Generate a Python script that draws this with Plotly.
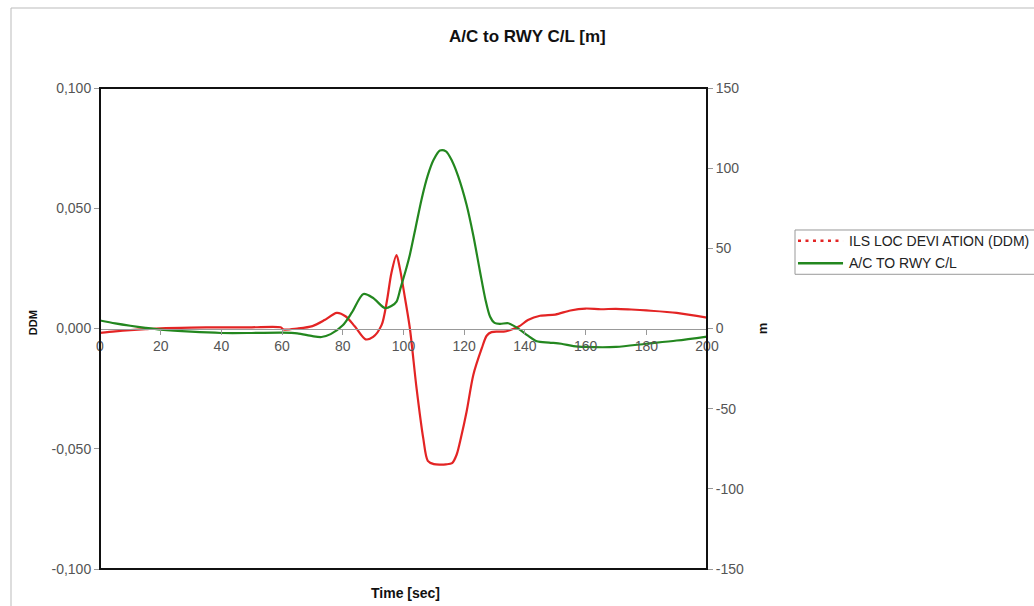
import plotly.graph_objects as go

# ILS localizer deviation (DDM) over time
t_ddm = [0, 5, 10, 15, 20, 30, 40, 50, 59.5, 60.5, 65, 70, 74, 78, 81, 84, 87.5, 90, 92.8,
         94.5, 96, 97.7, 98.8, 100.5, 102.1, 104.3, 106.5, 108, 110, 112, 114, 116, 117.5,
         119, 120.8, 123, 125.8, 127.4, 129, 131, 133, 135, 138, 141, 145, 150, 155, 160,
         165, 170, 175, 180, 190, 200]
ddm = [-0.0018, -0.0012, -0.0007, -0.0003, 0.0001, 0.0004, 0.0005, 0.0005, 0.0005, -0.0004,
       0.0000, 0.0010, 0.0035, 0.0065, 0.0050, 0.0008, -0.0045, -0.0035, 0.0015,
       0.0112, 0.0230, 0.0305, 0.0250, 0.0126, 0.0001, -0.0248, -0.0456, -0.0550, -0.0564,
       -0.0566, -0.0565, -0.0560, -0.0525, -0.0450, -0.0345, -0.0193, -0.0082, -0.0030,
       -0.0015, -0.0013, -0.0013, -0.0007, 0.0008, 0.0035, 0.0053, 0.0058, 0.0075, 0.0083,
       0.0080, 0.0082, 0.0079, 0.0075, 0.0065, 0.0045]

# Aircraft lateral offset to runway centre line (m)
t_m = [0, 5, 10, 15, 20, 30, 40, 50, 60, 65, 70, 73, 76, 80, 83, 86.8, 90, 93.9, 96,
       97.7, 99, 101, 102.1, 104, 106, 108, 110, 112, 114, 116, 118, 120.8, 123, 125.2, 127,
       128.5, 130, 131.8, 134.5, 136.5, 138.4, 141, 143.9, 148, 152, 156, 160, 170, 180,
       190, 200]
m_off = [5, 3.2, 1.7, 0.4, -0.7, -2.0, -2.8, -2.8, -2.6, -3.0, -4.8, -5.3, -3.5, 2.0,
         10.0, 21.5, 19.0, 12.7, 14.0, 16.8, 25.0, 38.0, 46.0, 63.0, 81.0, 95.5, 105.5,
         111.0, 110.5, 104.5, 95.0, 77.0, 58.0, 35.6, 18.0, 7.5, 3.5, 2.9, 3.3, 1.5, -0.8,
         -4.5, -8.0, -8.8, -9.5, -11.0, -11.5, -11.5, -9.5, -7.5, -5.0]

x_ticks = list(range(0, 201, 20))
ddm_ticks = [-0.1, -0.05, 0, 0.05, 0.1]
ddm_tick_text = ["-0,100", "-0,050", "0,000", "0,050", "0,100"]
m_ticks = [-150, -100, -50, 0, 50, 100, 150]
m_tick_text = ["-150", "-100", "-50", "0", "50", "100", "150"]

legend_names = ["ILS LOC DEVI ATION (DDM)", "A/C TO RWY C/L"]

RED = "#e32424"
GREEN = "#23871f"
FONT = "Liberation Sans, Arial, sans-serif"
TICK_FONT = dict(family=FONT, size=14, color="#555555")
LABEL_FONT = dict(family=FONT, size=14, color="#111111")

fig = go.Figure()

fig.add_trace(go.Scatter(
    x=t_ddm, y=ddm, mode="lines", line=dict(color=RED, width=2.2, shape="spline", smoothing=0.8),
    name=legend_names[0], showlegend=False, yaxis="y"))
fig.add_trace(go.Scatter(
    x=t_m, y=m_off, mode="lines", line=dict(color=GREEN, width=2.2, shape="spline", smoothing=0.8),
    name=legend_names[1], showlegend=False, yaxis="y2"))

# manual legend box (paper coordinates)
lg_x0, lg_x1, lg_y0, lg_y1 = 1.145, 1.6, 0.6127, 0.7048
lg_line_x0, lg_line_x1, lg_text_x = 1.1499, 1.2241, 1.2306
lg_rows = [0.6825, 0.6355]

fig.update_layout(
    width=1034, height=606, autosize=False,
    margin=dict(l=100, r=327, t=88, b=37),
    paper_bgcolor="white", plot_bgcolor="white",
    showlegend=False,
    font=dict(family=FONT, size=14, color="#555555"),
    xaxis=dict(range=[0, 200], tickvals=x_ticks, anchor="free", position=0.5,
               showline=True, linecolor="#999999", linewidth=1,
               ticks="outside", ticklen=5, tickcolor="#999999",
               showgrid=False, zeroline=False, tickfont=TICK_FONT),
    yaxis=dict(range=[-0.1, 0.1], tickvals=ddm_ticks, ticktext=ddm_tick_text,
               ticks="outside", ticklen=5, tickcolor="#999999",
               showgrid=False, zeroline=False, showline=False, tickfont=TICK_FONT),
    yaxis2=dict(range=[-150, 150], tickvals=m_ticks, ticktext=m_tick_text,
                overlaying="y", side="right", ticks="outside", ticklen=5,
                tickcolor="#999999", showgrid=False, zeroline=False, showline=False,
                tickfont=TICK_FONT),
    shapes=[
        dict(type="rect", xref="paper", yref="paper", x0=-0.1466, x1=1.6, y0=-0.2, y1=1.1663,
             line=dict(color="#bbbbbb", width=1), layer="below"),
        dict(type="rect", xref="paper", yref="paper", x0=0, x1=1, y0=0, y1=1,
             line=dict(color="#111111", width=2), layer="above"),
        dict(type="rect", xref="paper", yref="paper", x0=lg_x0, x1=lg_x1, y0=lg_y0, y1=lg_y1,
             line=dict(color="#999999", width=1), fillcolor="white"),
        dict(type="line", xref="paper", yref="paper", x0=lg_line_x0, x1=lg_line_x1,
             y0=lg_rows[0], y1=lg_rows[0], line=dict(color=RED, width=2.5, dash="3px,4.5px")),
        dict(type="line", xref="paper", yref="paper", x0=lg_line_x0, x1=lg_line_x1,
             y0=lg_rows[1], y1=lg_rows[1], line=dict(color=GREEN, width=2.5)),
    ],
    annotations=[
        dict(text="<b>A/C to RWY C/L [m]</b>", xref="paper", yref="paper", x=0.704, y=1.1081,
             xanchor="center", yanchor="middle", showarrow=False,
             font=dict(family=FONT, size=17, color="#111111")),
        dict(text="<b>DDM</b>", xref="paper", yref="paper", x=-0.110, y=0.5114, textangle=-90,
             xanchor="center", yanchor="middle", showarrow=False,
             font=dict(family=FONT, size=11, color="#111111")),
        dict(text="<b>m</b>", xref="paper", yref="paper", x=1.092, y=0.5, textangle=-90,
             xanchor="center", yanchor="middle", showarrow=False,
             font=dict(family=FONT, size=13, color="#111111")),
        dict(text="<b>Time [sec]</b>", xref="paper", yref="paper", x=0.5025, y=-0.0499,
             xanchor="center", yanchor="middle", showarrow=False, font=LABEL_FONT),
        dict(text=legend_names[0], xref="paper", yref="paper", x=lg_text_x, y=lg_rows[0],
             xanchor="left", yanchor="middle", showarrow=False,
             font=dict(family=FONT, size=14, color="#222222")),
        dict(text=legend_names[1], xref="paper", yref="paper", x=lg_text_x, y=lg_rows[1],
             xanchor="left", yanchor="middle", showarrow=False,
             font=dict(family=FONT, size=14, color="#222222")),
    ],
)

fig.write_html("out.html")
